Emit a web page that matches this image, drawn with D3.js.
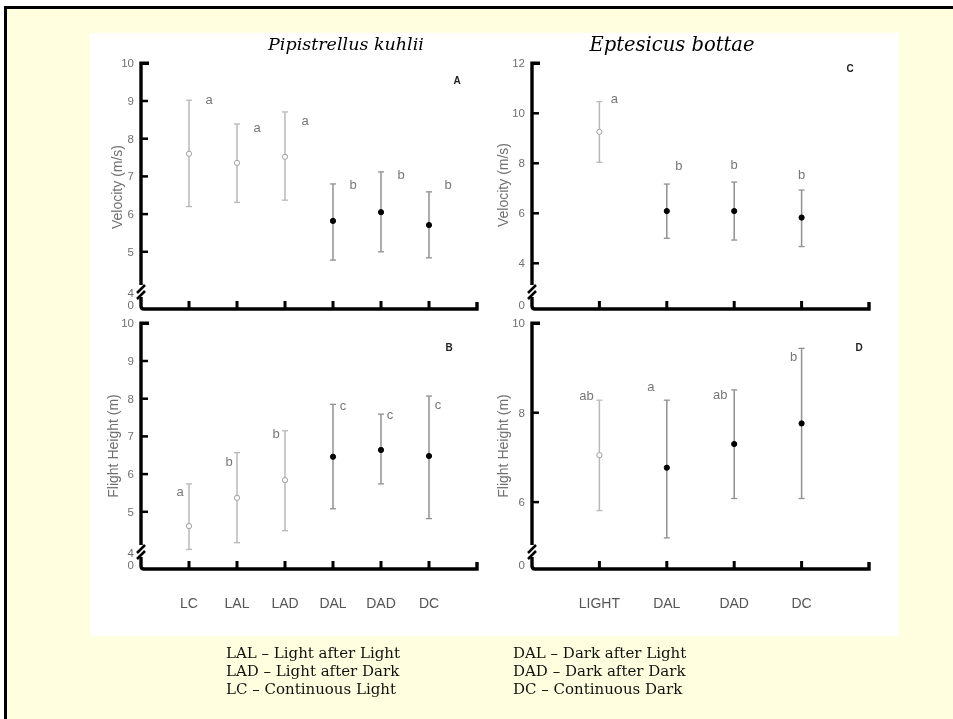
<!DOCTYPE html>
<html>
<head>
<meta charset="utf-8">
<script src="https://cdn.jsdelivr.net/npm/d3@7"></script>
<style>
    html, body { margin: 0; background: #ffffe0; overflow: hidden; }
    svg { display: block; will-change: transform; }
</style>
</head>
<body>
<div id="chart"></div>
<script>
// categories
const catsPK = ["LC", "LAL", "LAD", "DAL", "DAD", "DC"];
const catsEB = ["LIGHT", "DAL", "DAD", "DC"];
const lightPK = [true, true, true, false, false, false]; // open symbol = light
const lightEB = [true, false, false, false];

// Pipistrellus kuhlii - velocity (m/s)
const velPKMean = [7.60, 7.36, 7.52, 5.82, 6.05, 5.71];
const velPKLow = [6.20, 6.31, 6.37, 4.78, 5.00, 4.84];
const velPKHigh = [9.02, 8.39, 8.71, 6.80, 7.12, 6.59];
const velPKLetters = ["a", "a", "a", "b", "b", "b"];

// Pipistrellus kuhlii - flight height (m)
const hgtPKMean = [4.62, 5.37, 5.84, 6.46, 6.64, 6.48];
const hgtPKLow = [4.00, 4.18, 4.50, 5.08, 5.74, 4.82];
const hgtPKHigh = [5.74, 6.57, 7.15, 7.85, 7.59, 8.07];
const hgtPKLetters = ["a", "b", "b", "c", "c", "c"];

// Eptesicus bottae - velocity (m/s)
const velEBMean = [9.26, 6.09, 6.09, 5.83];
const velEBLow = [8.04, 5.00, 4.93, 4.67];
const velEBHigh = [10.47, 7.17, 7.25, 6.93];
const velEBLetters = ["a", "b", "b", "b"];

// Eptesicus bottae - flight height (m)
const hgtEBMean = [7.05, 6.77, 7.30, 7.76];
const hgtEBLow = [5.81, 5.20, 6.08, 6.08];
const hgtEBHigh = [8.28, 8.28, 8.51, 9.44];
const hgtEBLetters = ["ab", "a", "ab", "b"];

// tick labels
const ticksA = [4, 5, 6, 7, 8, 9, 10];
const ticksC = [4, 6, 8, 10, 12];
const ticksD = [6, 8, 10];

const legendLeft = ["LAL \u2013 Light after Light", "LAD \u2013 Light after Dark", "LC \u2013 Continuous Light"];
const legendRight = ["DAL \u2013 Dark after Light", "DAD \u2013 Dark after Dark", "DC \u2013 Continuous Dark"];

const W = 953, H = 719;

const svg = d3.select("#chart").append("svg")
    .attr("width", W)
    .attr("height", H);

// page frame
svg.append("rect").attr("x", 0).attr("y", 0).attr("width", W).attr("height", H).style("fill", "#fff");
svg.append("rect").attr("x", 4).attr("y", 6).attr("width", W - 4).attr("height", H - 6).style("fill", "#ffffe0");
svg.append("rect").attr("x", 4).attr("y", 6).attr("width", W - 4).attr("height", 3).style("fill", "#000");
svg.append("rect").attr("x", 4).attr("y", 6).attr("width", 3).attr("height", H - 6).style("fill", "#000");
svg.append("rect").attr("x", 90).attr("y", 33).attr("width", 809).attr("height", 603).style("fill", "#fff");

// species titles
svg.append("text")
    .attr("x", 346).attr("y", 50)
    .attr("text-anchor", "middle")
    .style("font-family", "'DejaVu Serif', serif")
    .style("font-style", "italic")
    .style("font-size", "17.5px")
    .text("Pipistrellus kuhlii");

svg.append("text")
    .attr("x", 672).attr("y", 51)
    .attr("text-anchor", "middle")
    .style("font-family", "'DejaVu Serif', serif")
    .style("font-style", "italic")
    .style("font-size", "19.5px")
    .text("Eptesicus bottae");

const panels = [
    {
        id: "A", x0: 141, x1: 477, top: 63.3, base: 309, brk: 285,
        yDomain: [4, 10], yLow: 289.5, ticks: ticksA, nCat: 7,
        cats: catsPK, light: lightPK, mean: velPKMean, low: velPKLow, high: velPKHigh, letters: velPKLetters,
        letterDx: [20, 20, 20, 20, 20, 19], letterDy: [-1, 3, 9, 1, 3, -7],
        title: "Velocity (m/s)", titleX: 117, titleY: 187, labelX: 457, labelY: 80, xLabels: false
    },
    {
        id: "B", x0: 141, x1: 477, top: 323.3, base: 569, brk: 545,
        yDomain: [4, 10], yLow: 549.5, ticks: ticksA, nCat: 7,
        cats: catsPK, light: lightPK, mean: hgtPKMean, low: hgtPKLow, high: hgtPKHigh, letters: hgtPKLetters,
        letterDx: [-9, -8, -9, 10, 9, 9], letterDy: [8, 9, 3, 1, 0, 8],
        title: "Flight Height (m)", titleX: 113, titleY: 446, labelX: 449, labelY: 347, xLabels: true
    },
    {
        id: "C", x0: 532, x1: 869, top: 63.3, base: 309, brk: 285,
        yDomain: [3, 12], yLow: 288.3, ticks: ticksC, nCat: 5,
        cats: catsEB, light: lightEB, mean: velEBMean, low: velEBLow, high: velEBHigh, letters: velEBLetters,
        letterDx: [15, 12, 0, 0], letterDy: [-3, -19, -18, -16],
        title: "Velocity (m/s)", titleX: 503, titleY: 185, labelX: 850, labelY: 68, xLabels: false
    },
    {
        id: "D", x0: 532, x1: 869, top: 323.3, base: 569, brk: 545,
        yDomain: [5, 10], yLow: 546.8, ticks: ticksD, nCat: 5,
        cats: catsEB, light: lightEB, mean: hgtEBMean, low: hgtEBLow, high: hgtEBHigh, letters: hgtEBLetters,
        letterDx: [-13, -16, -14, -8], letterDy: [-5, -14, 5, 8],
        title: "Flight Height (m)", titleX: 503, titleY: 446, labelX: 859, labelY: 347, xLabels: true
    }
];

const axisColor = "#000";
const grayText = "#707070";

panels.forEach((p) => {
    const g = svg.append("g").attr("class", "panel-" + p.id);

    const x = d3.scaleLinear().domain([0, p.nCat]).range([p.x0, p.x1]);
    const y = d3.scaleLinear().domain(p.yDomain).range([p.yLow, p.top]);

    // y axis with break
    g.append("path")
        .attr("d", `M${p.x0 + 8},${p.top} L${p.x0},${p.top} L${p.x0},${p.brk}`)
        .style("fill", "none").style("stroke", axisColor).style("stroke-width", 3.4);
    g.append("path")
        .attr("d", `M${p.x0 - 4},${p.brk + 8} L${p.x0 + 4},${p.brk}`)
        .style("fill", "none").style("stroke", axisColor).style("stroke-width", 2.5);
    g.append("path")
        .attr("d", `M${p.x0 - 4},${p.brk + 14} L${p.x0 + 4},${p.brk + 6}`)
        .style("fill", "none").style("stroke", axisColor).style("stroke-width", 2.5);
    g.append("path")
        .attr("d", `M${p.x0},${p.brk + 12} L${p.x0},${p.base - 3} Q${p.x0},${p.base} ${p.x0 + 3},${p.base} L${p.x1},${p.base} L${p.x1},${p.base - 7}`)
        .style("fill", "none").style("stroke", axisColor).style("stroke-width", 3.4);

    // y ticks (inward)
    const yTicks = p.ticks.filter((t) => t > p.yDomain[0] || p.id === "C");
    g.selectAll(".ytick")
        .data(yTicks.filter((t) => t !== p.yDomain[1]))
        .enter().append("line")
        .attr("x1", p.x0).attr("x2", p.x0 + 7)
        .attr("y1", (d) => y(d)).attr("y2", (d) => y(d))
        .style("stroke", axisColor).style("stroke-width", 2.5);

    // y tick labels
    g.selectAll(".ylab")
        .data(p.ticks)
        .enter().append("text")
        .attr("x", p.x0 - 7)
        .attr("y", (d) => (d === p.yDomain[0] && p.id !== "C") ? y(d) + 3 : y(d))
        .attr("dy", "0.35em")
        .attr("text-anchor", "end")
        .style("font-family", "'Liberation Sans', Arial, sans-serif")
        .style("font-size", "11.5px")
        .style("fill", grayText)
        .text((d) => d);

    g.append("text")
        .attr("x", p.x0 - 7).attr("y", p.base - 4)
        .attr("dy", "0.35em")
        .attr("text-anchor", "end")
        .style("font-family", "'Liberation Sans', Arial, sans-serif")
        .style("font-size", "11.5px")
        .style("fill", grayText)
        .text("0");

    // x ticks (inward)
    g.selectAll(".xtick")
        .data(p.cats)
        .enter().append("line")
        .attr("x1", (d, i) => x(i + 1)).attr("x2", (d, i) => x(i + 1))
        .attr("y1", p.base).attr("y2", p.base - 8)
        .style("stroke", axisColor).style("stroke-width", 3);

    if (p.xLabels) {
        g.selectAll(".xlab")
            .data(p.cats)
            .enter().append("text")
            .attr("x", (d, i) => x(i + 1))
            .attr("y", p.base + 39)
            .attr("text-anchor", "middle")
            .style("font-family", "'Liberation Sans', Arial, sans-serif")
            .style("font-size", "14px")
            .style("fill", "#555")
            .text((d) => d);
    }

    // axis title
    g.append("text")
        .attr("transform", `translate(${p.titleX},${p.titleY}) rotate(-90)`)
        .attr("text-anchor", "middle")
        .attr("dy", "0.35em")
        .style("font-family", "'Liberation Sans', Arial, sans-serif")
        .style("font-size", "14px")
        .style("fill", grayText)
        .text(p.title);

    // panel letter
    g.append("text")
        .attr("x", p.labelX).attr("y", p.labelY)
        .attr("dy", "0.35em")
        .attr("text-anchor", "middle")
        .style("font-family", "'Liberation Sans', Arial, sans-serif")
        .style("font-size", "10px")
        .style("font-weight", "bold")
        .style("fill", "#222")
        .text(p.id);

    // error bars
    const pts = p.cats.map((c, i) => ({
        i: i, cat: c, light: p.light[i], mean: p.mean[i], low: p.low[i], high: p.high[i], letter: p.letters[i]
    }));

    const bar = g.selectAll(".bar").data(pts).enter().append("g");
    const barColor = (d) => d.light ? "#b8b8b8" : "#909090";

    bar.append("line")
        .attr("x1", (d) => x(d.i + 1)).attr("x2", (d) => x(d.i + 1))
        .attr("y1", (d) => y(d.low)).attr("y2", (d) => y(d.high))
        .style("stroke", barColor).style("stroke-width", 1.5);
    bar.append("line")
        .attr("x1", (d) => x(d.i + 1) - 3).attr("x2", (d) => x(d.i + 1) + 3)
        .attr("y1", (d) => y(d.low)).attr("y2", (d) => y(d.low))
        .style("stroke", barColor).style("stroke-width", 1.3);
    bar.append("line")
        .attr("x1", (d) => x(d.i + 1) - 3).attr("x2", (d) => x(d.i + 1) + 3)
        .attr("y1", (d) => y(d.high)).attr("y2", (d) => y(d.high))
        .style("stroke", barColor).style("stroke-width", 1.3);
    bar.append("circle")
        .attr("cx", (d) => x(d.i + 1))
        .attr("cy", (d) => y(d.mean))
        .attr("r", 2.6)
        .style("fill", (d) => d.light ? "#fff" : "#000")
        .style("stroke", (d) => d.light ? "#a0a0a0" : "#000")
        .style("stroke-width", 1);

    // significance letters
    bar.append("text")
        .attr("x", (d) => x(d.i + 1) + p.letterDx[d.i])
        .attr("y", (d) => y(d.high) + p.letterDy[d.i])
        .attr("dy", "0.35em")
        .attr("text-anchor", "middle")
        .style("font-family", "'Liberation Sans', Arial, sans-serif")
        .style("font-size", "13px")
        .style("fill", "#777")
        .text((d) => d.letter);
});

// legend
const legend = svg.append("g")
    .style("font-family", "'DejaVu Serif', serif")
    .style("font-size", "15px")
    .style("fill", "#111");

legend.selectAll(".ll")
    .data(legendLeft)
    .enter().append("text")
    .attr("x", 226)
    .attr("y", (d, i) => 658 + i * 18)
    .text((d) => d);

legend.selectAll(".lr")
    .data(legendRight)
    .enter().append("text")
    .attr("x", 513)
    .attr("y", (d, i) => 658 + i * 18)
    .text((d) => d);
</script>
</body>
</html>
